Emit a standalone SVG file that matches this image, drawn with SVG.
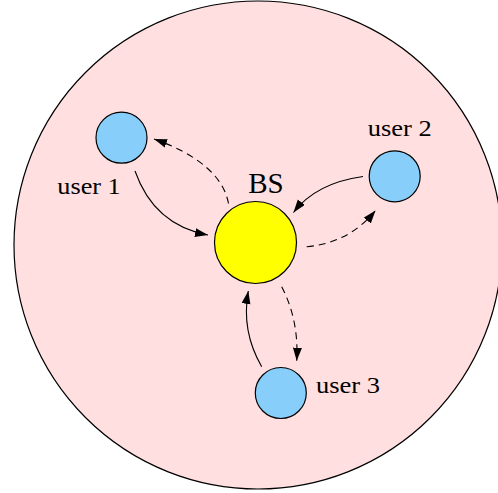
<svg xmlns="http://www.w3.org/2000/svg" width="498" height="493" viewBox="0 0 498 493">
<style>
.cell{fill:#FFDFE0;stroke:#000;stroke-width:1.2}
.user{fill:#87CEFA;stroke:#000;stroke-width:1.2}
.bs{fill:#FFFF00;stroke:#000;stroke-width:1.2}
.lbl{font-family:"Liberation Serif","Times New Roman",serif;font-size:24px;fill:#000}
.bslbl{font-family:"Liberation Serif","Times New Roman",serif;font-size:29px;fill:#000}
.up{fill:none;stroke:#000;stroke-width:1.1;marker-end:url(#ah)}
.down{fill:none;stroke:#000;stroke-width:1.1;stroke-dasharray:7 5;marker-end:url(#ah)}
</style>
<defs>
<marker id="ah" markerUnits="userSpaceOnUse" markerWidth="14" markerHeight="10" refX="13" refY="4.5" orient="auto">
<path d="M0,0 L13,4.5 L0,9 Z" fill="#000"/>
</marker>
</defs>
<g id="cell"><circle class="cell" cx="258" cy="245" r="244"/></g>
<g id="bs">
<circle class="bs" cx="255.5" cy="242.5" r="41"/>
<text class="bslbl" x="248.3" y="192.5" textLength="35.4">BS</text>
</g>
<g id="user1">
<circle class="user" cx="121.5" cy="137.7" r="25.5"/>
<text class="lbl" x="57.3" y="194.3" textLength="63.4" lengthAdjust="spacingAndGlyphs">user 1</text>
</g>
<g id="user2">
<circle class="user" cx="394.7" cy="176.3" r="25.5"/>
<text class="lbl" x="367.7" y="135.7" textLength="64" lengthAdjust="spacingAndGlyphs">user 2</text>
</g>
<g id="user3">
<circle class="user" cx="280.8" cy="393" r="25.5"/>
<text class="lbl" x="316" y="393.3" textLength="64" lengthAdjust="spacingAndGlyphs">user 3</text>
</g>
<g id="connectors">
<path class="up" d="M135,171 Q154,225 208,235"/>
<path class="down" d="M228.5,203.5 Q221,163 154,139"/>
<path class="up" d="M363,176.5 Q316,183 293.5,212.5"/>
<path class="down" d="M306.7,246.7 Q349,243 375.5,210.5"/>
<path class="up" d="M261.7,366.7 Q241,331 248.3,291"/>
<path class="down" d="M281.7,286.7 Q299,320 296.7,360.7"/>
</g>
</svg>
